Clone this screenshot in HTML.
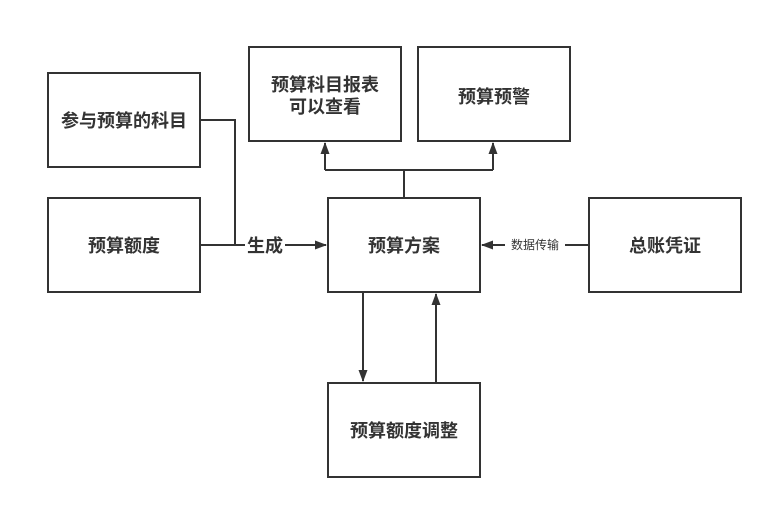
<!DOCTYPE html>
<html><head><meta charset="utf-8"><style>
body{margin:0;background:#fff}
text{font-family:"Liberation Sans","Noto Sans CJK SC",sans-serif;fill:#333}
</style></head><body>
<svg width="773" height="508" viewBox="0 0 773 508" xmlns="http://www.w3.org/2000/svg">
<defs><marker id="a" markerWidth="12" markerHeight="9" refX="11" refY="4.5" orient="auto" markerUnits="userSpaceOnUse"><path d="M0,0 L12,4.5 L0,9 Z" fill="#333"/></marker></defs>
<g fill="#fff" stroke="#333" stroke-width="2">
<rect x="48" y="73" width="152" height="94"/>
<rect x="48" y="198" width="152" height="94"/>
<rect x="249" y="47" width="152" height="94"/>
<rect x="418" y="47" width="152" height="94"/>
<rect x="328" y="198" width="152" height="94"/>
<rect x="589" y="198" width="152" height="94"/>
<rect x="328" y="383" width="152" height="94"/>
</g>
<g fill="none" stroke="#333" stroke-width="2">
<path d="M200 120 H235 V245"/>
<path d="M200 245 H245"/>
<path d="M285 245 H326" marker-end="url(#a)"/>
<path d="M404 198 V170 M325 170 H493"/>
<path d="M325 170 V143" marker-end="url(#a)"/>
<path d="M493 170 V143" marker-end="url(#a)"/>
<path d="M589 245 H565"/>
<path d="M505 245 H482" marker-end="url(#a)"/>
<path d="M363 292 V381" marker-end="url(#a)"/>
<path d="M436 383 V294" marker-end="url(#a)"/>
</g>
<g font-size="18" font-weight="bold" text-anchor="middle">
<text x="124" y="127">参与预算的科目</text>
<text x="124" y="252">预算额度</text>
<text x="325" y="91">预算科目报表</text>
<text x="325" y="113">可以查看</text>
<text x="494" y="103">预算预警</text>
<text x="404" y="252">预算方案</text>
<text x="665" y="252">总账凭证</text>
<text x="404" y="437">预算额度调整</text>
<text x="265" y="252">生成</text>
</g>
<text x="535" y="249" font-size="12" text-anchor="middle">数据传输</text>
</svg>
</body></html>
